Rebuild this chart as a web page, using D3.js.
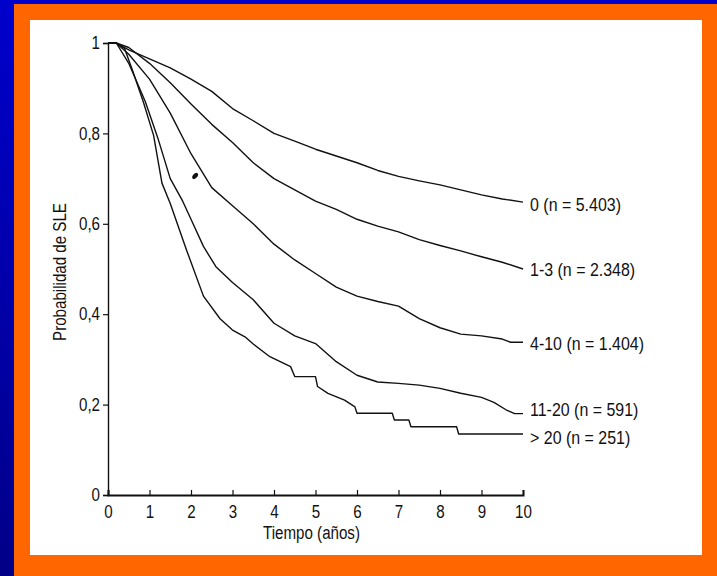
<!DOCTYPE html>
<html>
<head>
<meta charset="utf-8">
<script src="https://cdn.jsdelivr.net/npm/d3@7"></script>
<style>
  body { margin: 0; overflow: hidden; }
  svg text { font-family: "Liberation Sans Narrow", "Arial Narrow", "Liberation Sans", sans-serif; fill: #111; }
</style>
</head>
<body>
<svg id="chart" width="717" height="576"></svg>
<script>
// Kaplan-Meier curves: [years, probability]
var curve0 = [[0,1],[0.2,1],[0.5,0.985],[1,0.965],[1.5,0.945],[2,0.92],[2.5,0.893],[3,0.855],[3.5,0.828],[4,0.80],[4.5,0.783],[5,0.765],[5.5,0.75],[6,0.735],[6.5,0.718],[7,0.705],[7.5,0.695],[8,0.686],[8.5,0.675],[9,0.664],[9.5,0.655],[10,0.648]];
var curve1 = [[0,1],[0.2,1],[0.5,0.99],[1,0.955],[1.5,0.912],[2,0.865],[2.5,0.82],[3,0.78],[3.5,0.735],[4,0.70],[4.5,0.675],[5,0.65],[5.5,0.632],[6,0.61],[6.5,0.595],[7,0.582],[7.5,0.565],[8,0.552],[8.5,0.54],[9,0.527],[9.5,0.515],[10,0.50]];
var curve2 = [[0,1],[0.2,1],[0.5,0.975],[1,0.92],[1.5,0.845],[2,0.755],[2.5,0.68],[3,0.64],[3.5,0.60],[4,0.555],[4.5,0.52],[5,0.49],[5.5,0.46],[6,0.44],[6.5,0.428],[7,0.418],[7.5,0.39],[8,0.37],[8.5,0.356],[9,0.352],[9.5,0.345],[9.7,0.338],[10,0.338]];
var curve3 = [[0,1],[0.2,1],[0.5,0.955],[0.9,0.87],[1.2,0.79],[1.5,0.70],[1.8,0.65],[2,0.61],[2.3,0.55],[2.6,0.505],[3,0.47],[3.5,0.432],[4,0.38],[4.5,0.352],[5,0.335],[5.5,0.295],[6,0.265],[6.5,0.25],[7,0.247],[7.5,0.243],[8,0.236],[8.5,0.225],[9,0.216],[9.3,0.205],[9.6,0.188],[9.8,0.18],[10,0.18]];
var curve4 = [[0,1],[0.2,1],[0.4,0.988],[0.6,0.937],[0.85,0.87],[1.1,0.795],[1.3,0.69],[1.5,0.645],[1.9,0.54],[2.3,0.44],[2.7,0.39],[3,0.365],[3.3,0.35],[3.5,0.334],[3.9,0.306],[4.4,0.284],[4.5,0.262],[5,0.262],[5.05,0.24],[5.3,0.225],[5.7,0.21],[5.95,0.195],[6,0.181],[6.85,0.181],[6.9,0.166],[7.25,0.166],[7.3,0.151],[8.4,0.151],[8.45,0.135],[10,0.135]];
var curves = [curve0, curve1, curve2, curve3, curve4];
var groupLabels = ["0 (n = 5.403)", "1-3 (n = 2.348)", "4-10 (n = 1.404)", "11-20 (n = 591)", "> 20 (n = 251)"];

var xTicks = [0,1,2,3,4,5,6,7,8,9,10];
var yTicks = [0,0.2,0.4,0.6,0.8,1];
var xTitle = "Tiempo (años)";
var yTitle = "Probabilidad de SLE";

var svg = d3.select("#chart");

// slide background: blue, orange frame, white panel
var defs = svg.append("defs");
var grad = defs.append("linearGradient").attr("id", "bg").attr("x1", 0).attr("y1", 0).attr("x2", 0).attr("y2", 1);
grad.append("stop").attr("offset", "0%").attr("stop-color", "#0000cc");
grad.append("stop").attr("offset", "100%").attr("stop-color", "#000088");
svg.append("rect").attr("width", 717).attr("height", 576).attr("fill", "url(#bg)");
svg.append("rect").attr("x", 14).attr("y", 4).attr("width", 703).attr("height", 572).attr("fill", "#ff6600");
svg.append("rect").attr("x", 30).attr("y", 20).attr("width", 672).attr("height", 535).attr("fill", "#ffffff");

var x = d3.scaleLinear().domain([0, 10]).range([108, 523]);
var y = d3.scaleLinear().domain([0, 1]).range([495, 43]);

var comma = d3.formatLocale({decimal: ",", thousands: ".", grouping: [3], currency: ["", ""]});
var fmt = function (d) { return d === 0 || d === 1 ? String(d) : comma.format(".1f")(d); };

// y axis
var yAxis = svg.append("g")
  .attr("transform", "translate(" + x(0) + ",0)")
  .call(d3.axisLeft(y).tickValues(yTicks).tickFormat(fmt).tickSize(5).tickPadding(3));
yAxis.select(".domain").attr("stroke", "#111").attr("stroke-width", 1.4);
yAxis.selectAll("line").attr("stroke", "#111").attr("stroke-width", 1.2);
yAxis.selectAll("text").style("font-size", "18px");

// x axis
var xAxis = svg.append("g")
  .attr("transform", "translate(0," + y(0) + ")")
  .call(d3.axisBottom(x).tickValues(xTicks).tickSize(-5).tickPadding(10));
xAxis.select(".domain").attr("stroke", "#111").attr("stroke-width", 2);
xAxis.selectAll("line").attr("stroke", "#111").attr("stroke-width", 1.2);
xAxis.selectAll("text").style("font-size", "18px");

svg.append("text")
  .attr("x", (x(0) + x(10)) / 2 - 4).attr("y", 539)
  .attr("text-anchor", "middle")
  .style("font-size", "18px")
  .text(xTitle);

svg.append("text")
  .attr("transform", "translate(66,272) rotate(-90)")
  .attr("text-anchor", "middle")
  .style("font-size", "18px")
  .text(yTitle);

// curves
var line = d3.line()
  .x(function (d) { return x(d[0]); })
  .y(function (d) { return y(d[1]); });

svg.selectAll(".km")
  .data(curves)
  .enter().append("path")
  .attr("class", "km")
  .attr("d", line)
  .attr("fill", "none")
  .attr("stroke", "#111")
  .attr("stroke-width", 1.4)
  .attr("stroke-linejoin", "round");

// end labels
var labelShift = [2, 0, 1, -4, 3];
svg.selectAll(".endLabel")
  .data(curves)
  .enter().append("text")
  .attr("class", "endLabel")
  .attr("x", x(10) + 7)
  .attr("y", function (d, i) { return y(d[d.length - 1][1]) + labelShift[i]; })
  .attr("dy", "0.35em")
  .style("font-size", "19px")
  .text(function (d, i) { return groupLabels[i]; });

// the small ink blot on the 4-10 curve in the scan
svg.append("ellipse")
  .attr("cx", x(2.1)).attr("cy", y(0.706))
  .attr("rx", 2.2).attr("ry", 3.6)
  .attr("transform", "rotate(40," + x(2.1) + "," + y(0.706) + ")")
  .attr("fill", "#111");

// no narrow font installed: squeeze the glyphs like Arial Narrow
svg.selectAll("text").each(function () {
  var w = this.getComputedTextLength();
  d3.select(this).attr("textLength", w * 0.84).attr("lengthAdjust", "spacingAndGlyphs");
});
</script>
</body>
</html>
